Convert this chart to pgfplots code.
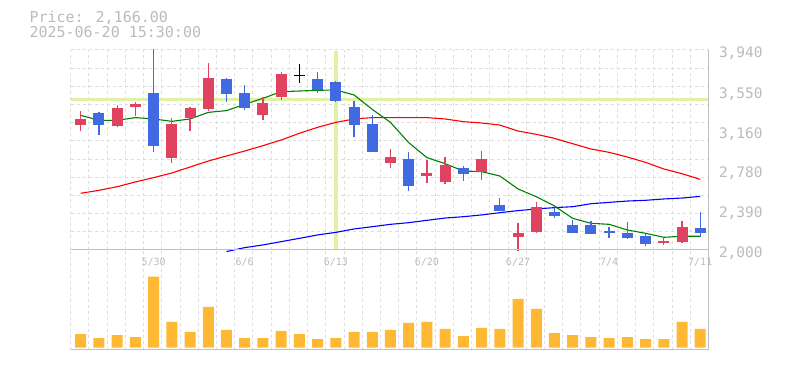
\documentclass[border=0pt]{standalone}
\usepackage{fontspec}
\setmainfont{DejaVu Sans Mono}
\usepackage{pgfplots}
\usepackage{pgfplotstable}
\pgfplotsset{compat=1.18}
\definecolor{upc}{RGB}{224,67,95}
\definecolor{dnc}{RGB}{65,105,225}
\definecolor{volc}{RGB}{255,184,51}
\definecolor{gridc}{RGB}{221,221,221}
\definecolor{borderc}{RGB}{192,192,192}
\definecolor{txtc}{RGB}{187,187,187}
\definecolor{crossc}{RGB}{224,240,165}
\definecolor{magreen}{RGB}{0,128,0}

\pgfplotstableread{
i o h l c
0 3216 3348 3158 3271
2 3206 3403 3190 3377
3 3390 3436 3300 3416
5 2896 3280 2847 3222
6 3284 3390 3157 3377
7 3371 3814 3348 3668
10 3313 3481 3264 3426
11 3487 3727 3458 3707
17 2847 2980 2799 2902
19 2721 2873 2653 2747
20 2663 2902 2643 2824
22 2760 2960 2682 2883
24 2129 2262 1990 2165
25 2175 2466 2165 2417
32 2068 2129 2052 2087
33 2081 2281 2071 2223
}\upT

\pgfplotstableread{
i o h l c
1 3329 3339 3119 3216
4 3523 3950 2954 3012
8 3659 3668 3439 3516
9 3523 3600 3355 3381
13 3659 3727 3526 3549
14 3630 3639 3439 3449
15 3387 3445 3099 3216
16 3222 3310 2950 2954
18 2883 2951 2576 2624
21 2795 2815 2673 2740
23 2436 2504 2375 2375
26 2368 2430 2314 2333
27 2239 2291 2168 2168
28 2242 2281 2158 2158
29 2184 2223 2120 2168
30 2165 2272 2107 2120
31 2136 2155 2042 2061
34 2213 2369 2129 2166
}\dnT

\pgfplotstableread{
i o h l c
12 3695 3804 3622 3695
}\dojiT

\pgfplotstableread{
i v
0 41
1 29
2 38
3 32
4 213
5 77
6 47
7 122
8 53
9 29
10 29
11 50
12 41
13 26
14 29
15 47
16 47
17 53
18 74
19 77
20 56
21 35
22 59
23 56
24 146
25 116
26 44
27 38
28 32
29 29
30 32
31 26
32 26
33 77
34 56
}\volT

\pgfplotstableread{
i v
0 3306
1 3258
2 3258
3 3284
4 3271
5 3248
6 3271
7 3335
8 3352
9 3413
10 3471
11 3536
12 3542
13 3549
14 3552
15 3504
16 3364
17 3238
18 3041
19 2896
20 2837
21 2766
22 2760
23 2718
24 2592
25 2517
26 2427
27 2307
28 2259
29 2249
30 2194
31 2162
32 2123
33 2133
34 2133
}\maS

\pgfplotstableread{
i v
0 2550
1 2579
2 2614
3 2660
4 2702
5 2747
6 2805
7 2863
8 2912
9 2960
10 3012
11 3067
12 3132
13 3190
14 3238
15 3271
16 3284
17 3284
18 3284
19 3284
20 3271
21 3245
22 3232
23 3212
24 3154
25 3122
26 3083
27 3031
28 2980
29 2947
30 2902
31 2850
32 2786
33 2740
34 2685
}\maM

\pgfplotstableread{
i v
8 1985
9 2023
10 2049
11 2081
12 2113
13 2146
14 2171
15 2204
16 2226
17 2249
18 2265
19 2288
20 2310
21 2323
22 2340
23 2362
24 2382
25 2398
26 2411
27 2420
28 2449
29 2462
30 2475
31 2482
32 2495
33 2504
34 2520
}\maL

\pgfplotsset{
  wick/.style={draw=none, mark=none, forget plot,
    error bars/.cd, y dir=both, y explicit, error mark=none,
    error bar style={draw=#1, line width=1.3bp}},
  body/.style={draw=none, mark=none, forget plot,
    error bars/.cd, y dir=both, y explicit, error mark=none,
    error bar style={draw=#1, line width=11bp}},
}

\begin{document}
\begin{tikzpicture}
\useasboundingbox (0,0) rectangle (785bp,370bp);
\node[anchor=base west, inner sep=0, text=txtc, font=\fontsize{15bp}{15bp}\selectfont] at (29.3bp,347.3bp) {Price: 2,166.00};
\node[anchor=base west, inner sep=0, text=txtc, font=\fontsize{15bp}{15bp}\selectfont] at (29.3bp,332.3bp) {2025-06-20 15:30:00};

\begin{axis}[
  name=price, at={(70.7bp,120bp)}, anchor=south west,
  scale only axis, width=638.1bp, height=200bp,
  xmin=-0.55, xmax=34.47, ymin=2000, ymax=3940,
  axis line style={draw=none},
  xtick={-0.55,0.45,...,33.5}, xticklabels={},
  ytick={2000,2176.36,2352.73,2529.09,2705.45,2881.82,3058.18,3234.55,3410.91,3587.27,3763.64,3940},
  yticklabels={},
  major tick length=0,
  grid=major,
  major grid style={draw=gridc, dash pattern=on 3bp off 3bp, line width=1bp},
  yticklabel pos=right,
  extra y ticks={2000,2390,2780,3160,3550,3940},
  extra y tick labels={{2,000},{2,390},{2,780},{3,160},{3,550},{3,940}},
  extra y tick style={grid=none},
  yticklabel style={font=\fontsize{14.5bp}{14.5bp}\selectfont, text=txtc, anchor=base west, inner sep=0, xshift=10bp, yshift=-8bp},
  clip=false,
]
\addplot[crossc, line width=3.5bp, mark=none, forget plot] coordinates {(14,2010) (14,3932)};
\addplot[crossc, line width=3.5bp, mark=none, forget plot] coordinates {(-0.55,3458) (34.47,3458)};
\addplot[blue, line width=1.1bp, mark=none] table[x=i,y=v] {\maL};
\addplot[red, line width=1.1bp, mark=none] table[x=i,y=v] {\maM};
\addplot[magreen, line width=1.1bp, mark=none] table[x=i,y=v] {\maS};
\addplot[wick=upc] table[x=i, y expr={(\thisrow{h}+\thisrow{l})/2}, y error expr={(\thisrow{h}-\thisrow{l})/2}] {\upT};
\addplot[wick=dnc] table[x=i, y expr={(\thisrow{h}+\thisrow{l})/2}, y error expr={(\thisrow{h}-\thisrow{l})/2}] {\dnT};
\addplot[wick=black] table[x=i, y expr={(\thisrow{h}+\thisrow{l})/2}, y error expr={(\thisrow{h}-\thisrow{l})/2}] {\dojiT};
\addplot[body=upc] table[x=i, y expr={(\thisrow{o}+\thisrow{c})/2}, y error expr={abs(\thisrow{c}-\thisrow{o})/2}] {\upT};
\addplot[body=dnc] table[x=i, y expr={(\thisrow{o}+\thisrow{c})/2}, y error expr={abs(\thisrow{c}-\thisrow{o})/2}] {\dnT};
\addplot[draw=none, mark=none, forget plot,
  error bars/.cd, x dir=both, x explicit, error mark=none,
  error bar style={draw=black, line width=1.3bp}]
  table[x=i, y=o, x error expr={0.283}] {\dojiT};
\end{axis}

\begin{axis}[
  name=vol, at={(70.7bp,20bp)}, anchor=south west,
  scale only axis, width=638.1bp, height=100bp,
  xmin=-0.55, xmax=34.47, ymin=-7, ymax=293,
  axis line style={draw=none},
  xtick={-0.55,0.45,...,33.5}, xticklabels={},
  ytick=\empty,
  major tick length=0,
  xmajorgrids,
  major grid style={draw=gridc, dash pattern=on 3bp off 3bp, line width=1bp},
  clip=false,
]
\addplot[ybar, bar width=11bp, bar shift=0pt, fill=volc, draw=none] table[x=i,y=v] {\volT};
\node[text=txtc, font=\fontsize{10bp}{10bp}\selectfont, inner sep=0] at (axis cs:4,257) {5/30};
\node[text=txtc, font=\fontsize{10bp}{10bp}\selectfont, inner sep=0] at (axis cs:9,257) {6/6};
\node[text=txtc, font=\fontsize{10bp}{10bp}\selectfont, inner sep=0] at (axis cs:14,257) {6/13};
\node[text=txtc, font=\fontsize{10bp}{10bp}\selectfont, inner sep=0] at (axis cs:19,257) {6/20};
\node[text=txtc, font=\fontsize{10bp}{10bp}\selectfont, inner sep=0] at (axis cs:24,257) {6/27};
\node[text=txtc, font=\fontsize{10bp}{10bp}\selectfont, inner sep=0] at (axis cs:29,257) {7/4};
\node[text=txtc, font=\fontsize{10bp}{10bp}\selectfont, inner sep=0] at (axis cs:34,257) {7/11};
\end{axis}
\draw[borderc, line width=1bp] (price.south west) -- (price.south east);
\draw[borderc, line width=1bp] (vol.south west) -- (vol.south east);
\draw[borderc, line width=1bp] (price.north east) -- (vol.south east);
\end{tikzpicture}
\end{document}
